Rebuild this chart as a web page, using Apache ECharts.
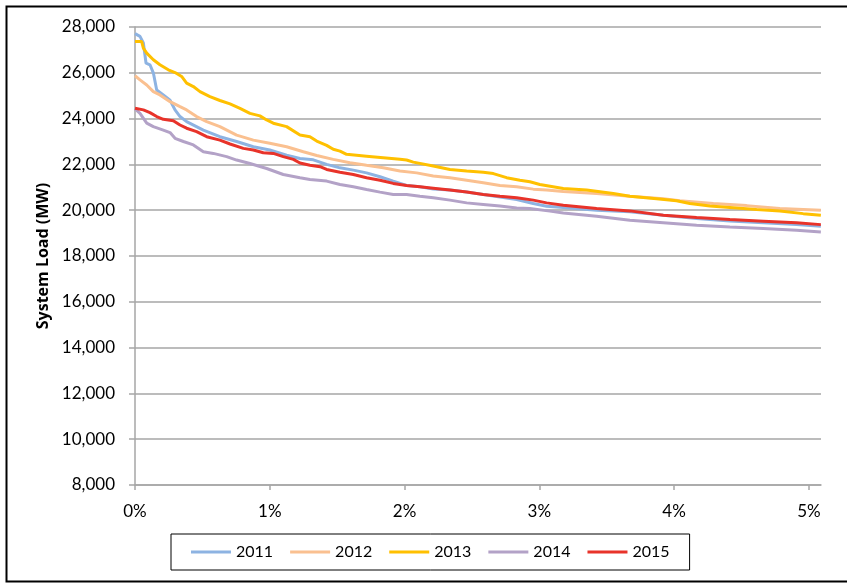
<!DOCTYPE html>
<html>
<head>
<meta charset="utf-8">
<script src="https://cdn.jsdelivr.net/npm/echarts@6/dist/echarts.min.js"></script>
<style>
  html, body { margin: 0; padding: 0; background: #fff; }
  #chart { width: 847px; height: 583px; }
</style>
</head>
<body>
<div id="chart"></div>
<script>
// Load duration curves: share of hours in the year (%) vs. system load (MW)
const years = ['2011', '2012', '2013', '2014', '2015'];
const colors = ['#8db3e2', '#fac090', '#ffc000', '#b3a2c7', '#e8332a'];

const pct2011 = [0, 0.037, 0.062, 0.082, 0.111, 0.136, 0.161, 0.21, 0.26, 0.297, 0.334, 0.383, 0.507, 0.63, 0.754, 0.878, 1.0, 1.125, 1.224, 1.323, 1.422, 1.521, 1.62, 1.718, 1.818, 1.916, 2.015, 2.114, 2.213, 2.337, 2.461, 2.584, 2.708, 2.832, 2.955, 3.054, 3.178, 3.425, 3.672, 3.92, 4.167, 4.414, 4.662, 4.909, 5.089];
const load2011 = [27710, 27590, 27300, 26420, 26350, 26000, 25250, 25030, 24800, 24380, 24090, 23870, 23500, 23210, 23000, 22770, 22630, 22400, 22260, 22200, 22000, 21850, 21750, 21630, 21460, 21270, 21080, 21020, 20930, 20880, 20790, 20690, 20580, 20470, 20290, 20170, 20120, 20000, 19930, 19780, 19640, 19530, 19450, 19370, 19300];

const pct2012 = [0, 0.037, 0.087, 0.136, 0.185, 0.26, 0.334, 0.383, 0.457, 0.532, 0.63, 0.754, 0.878, 1.0, 1.125, 1.249, 1.348, 1.471, 1.595, 1.718, 1.842, 1.966, 2.09, 2.213, 2.337, 2.461, 2.584, 2.708, 2.832, 2.955, 3.054, 3.178, 3.425, 3.672, 3.92, 4.043, 4.291, 4.538, 4.785, 5.089];
const load2012 = [25870, 25690, 25470, 25180, 25035, 24740, 24520, 24380, 24090, 23870, 23650, 23280, 23060, 22920, 22770, 22550, 22390, 22220, 22070, 21960, 21850, 21710, 21630, 21490, 21420, 21310, 21200, 21080, 21020, 20920, 20880, 20820, 20730, 20610, 20500, 20410, 20290, 20200, 20070, 20000];

const pct2013 = [0, 0.049, 0.062, 0.087, 0.136, 0.185, 0.247, 0.297, 0.346, 0.383, 0.433, 0.482, 0.556, 0.63, 0.705, 0.779, 0.853, 0.927, 0.977, 1.026, 1.125, 1.224, 1.298, 1.348, 1.422, 1.471, 1.521, 1.57, 1.718, 1.842, 1.966, 2.015, 2.065, 2.213, 2.337, 2.461, 2.584, 2.659, 2.757, 2.856, 2.93, 3.004, 3.178, 3.351, 3.549, 3.672, 3.87, 4.018, 4.117, 4.266, 4.414, 4.612, 4.785, 4.958, 5.089];
const load2013 = [27370, 27370, 27080, 26860, 26570, 26350, 26130, 26010, 25840, 25550, 25400, 25180, 24960, 24790, 24640, 24450, 24230, 24120, 23940, 23800, 23650, 23280, 23210, 23020, 22830, 22660, 22580, 22440, 22360, 22290, 22220, 22190, 22100, 21930, 21780, 21710, 21660, 21600, 21420, 21310, 21240, 21120, 20950, 20880, 20730, 20610, 20500, 20410, 20290, 20180, 20120, 20030, 19970, 19850, 19780];

const pct2014 = [0, 0.037, 0.087, 0.136, 0.21, 0.26, 0.297, 0.359, 0.433, 0.507, 0.581, 0.68, 0.754, 0.853, 0.977, 1.1, 1.224, 1.298, 1.422, 1.521, 1.62, 1.718, 1.818, 1.916, 2.015, 2.114, 2.213, 2.337, 2.461, 2.584, 2.708, 2.832, 2.93, 3.079, 3.178, 3.425, 3.672, 3.92, 4.167, 4.414, 4.662, 4.909, 5.089];
const load2014 = [24420, 24230, 23800, 23650, 23500, 23390, 23140, 23000, 22850, 22550, 22480, 22340, 22190, 22040, 21820, 21560, 21420, 21340, 21270, 21120, 21020, 20900, 20790, 20690, 20690, 20610, 20540, 20440, 20320, 20250, 20180, 20100, 20070, 19960, 19880, 19740, 19560, 19450, 19340, 19270, 19200, 19120, 19050];

const pct2015 = [0, 0.062, 0.111, 0.161, 0.21, 0.284, 0.334, 0.383, 0.457, 0.532, 0.63, 0.705, 0.804, 0.878, 0.952, 1.026, 1.1, 1.175, 1.224, 1.298, 1.373, 1.422, 1.521, 1.62, 1.718, 1.818, 1.916, 2.015, 2.114, 2.213, 2.337, 2.461, 2.584, 2.708, 2.832, 2.955, 3.054, 3.178, 3.425, 3.672, 3.92, 4.167, 4.414, 4.662, 4.909, 5.089];
const load2015 = [24450, 24380, 24260, 24090, 23970, 23910, 23720, 23580, 23430, 23210, 23060, 22890, 22700, 22630, 22510, 22480, 22340, 22220, 22060, 21960, 21900, 21780, 21660, 21560, 21420, 21310, 21170, 21080, 21020, 20960, 20880, 20790, 20690, 20610, 20540, 20440, 20320, 20220, 20070, 19970, 19780, 19680, 19590, 19520, 19450, 19370];

const xTicks = [0, 1, 2, 3, 4, 5];
const xMax = 5.09;
const yMin = 8000, yMax = 28000, yStep = 2000;

const curves = [
  [pct2011, load2011],
  [pct2012, load2012],
  [pct2013, load2013],
  [pct2014, load2014],
  [pct2015, load2015]
];

const FONT = 'Lato, "Open Sans", sans-serif';
const GRID_GRAY = '#a6a6a6';

const chart = echarts.init(document.getElementById('chart'), null, { renderer: 'canvas' });

chart.setOption({
  animation: false,
  backgroundColor: '#ffffff',
  textStyle: { fontFamily: FONT },
  graphic: [{
    type: 'rect',
    left: 4, top: 4,
    shape: { width: 900, height: 575 },
    style: { fill: 'none', stroke: '#000', lineWidth: 2 },
    silent: true, z: -10
  }],
  grid: { left: 135, right: 26, top: 27, bottom: 98, containLabel: false },
  legend: {
    data: years,
    icon: 'rect',
    left: 171, top: 534,
    padding: [10, 20],
    itemGap: 17,
    itemWidth: 40,
    itemHeight: 3,
    borderColor: '#000',
    borderWidth: 1,
    textStyle: { fontFamily: FONT, fontSize: 16, color: '#000', lineHeight: 16 }
  },
  xAxis: {
    type: 'value',
    min: 0, max: xMax, interval: 1,
    axisLine: { lineStyle: { color: GRID_GRAY, width: 1.5 } },
    axisTick: { show: true, length: 5, customValues: xTicks, lineStyle: { color: GRID_GRAY, width: 1.5 } },
    axisLabel: {
      customValues: xTicks,
      margin: 18,
      fontFamily: FONT, fontSize: 17, color: '#000',
      formatter: v => (Number.isInteger(v) ? v + '%' : '')
    },
    splitLine: { show: false }
  },
  yAxis: {
    type: 'value',
    min: yMin, max: yMax, interval: yStep,
    name: 'System Load (MW)',
    nameLocation: 'middle',
    nameGap: 80,
    nameTextStyle: { fontFamily: '"Open Sans", Lato, sans-serif', fontSize: 16, fontWeight: 'bold', color: '#000' },
    axisLine: { show: true, lineStyle: { color: GRID_GRAY, width: 1.5 } },
    axisTick: { show: true, length: 6, lineStyle: { color: GRID_GRAY, width: 1.5 } },
    axisLabel: {
      margin: 20,
      fontFamily: FONT, fontSize: 17, color: '#000',
      formatter: v => v.toLocaleString('en-US')
    },
    splitLine: { lineStyle: { color: GRID_GRAY, width: 1.5 } }
  },
  series: curves.map((c, i) => ({
    name: years[i],
    type: 'line',
    showSymbol: false,
    symbol: 'none',
    color: colors[i],
    lineStyle: { width: 3, color: colors[i] },
    data: c[0].map((p, k) => [p, c[1][k]])
  }))
});
</script>
</body>
</html>
